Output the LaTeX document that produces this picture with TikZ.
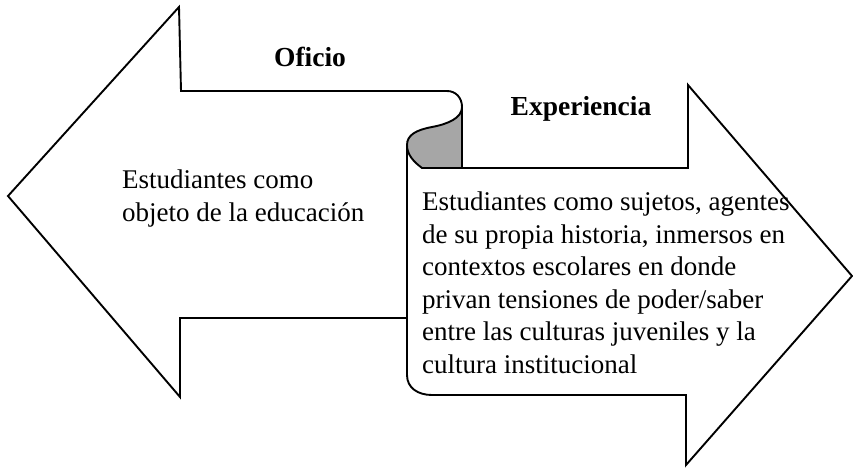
\documentclass[tikz,border=0pt]{standalone}
\usepackage{fontspec}
\setmainfont{Liberation Serif}
\definecolor{foldgray}{RGB}{166,166,166}
\tikzset{
  outline/.style={line width=1.9pt, line join=miter, black},
  bodytext/.style={font=\fontsize{27}{32.5}\selectfont, inner sep=0pt, align=left, anchor=north west},
  titletext/.style={font=\fontsize{27.5}{32}\selectfont\bfseries, inner sep=0pt, anchor=base}
}
\begin{document}
\begin{tikzpicture}[x=1pt,y=-1pt]
\useasboundingbox (0,0) rectangle (853,468);
% left arrow (Oficio)
\draw[outline] (407,318) -- (180,318) -- (180,397) -- (8,196) -- (179,7) -- (181,91) -- (447,91)
  .. controls (456,91) and (462,98) .. (462,107) -- (462,168);
% fold
\filldraw[outline, fill=foldgray] (462,107) .. controls (462,118) and (448,124) .. (432,127)
  .. controls (416,130) and (407,135) .. (407,145)
  .. controls (407,155) and (414,162) .. (422,168) -- (462,168) -- cycle;
% right arrow (Experiencia)
\draw[outline] (422,168) -- (688,168) -- (688,85) -- (852,276) -- (686,465) -- (686,395) -- (432,395)
  .. controls (418,395) and (407,388) .. (407,375) -- (407,145);
% texts
\node[titletext] (oficio) at (310,67) {Oficio};
\node[titletext] (experiencia) at (581,116) {Experiencia};
\node[bodytext] (objeto) at (122,170) {Estudiantes como\\objeto de la educación};
\node[bodytext] (sujetos) at (422,192) {Estudiantes como sujetos, agentes\\de su propia historia, inmersos en\\contextos escolares en donde\\privan tensiones de poder/saber\\entre las culturas juveniles y la\\cultura institucional};
\end{tikzpicture}
\end{document}
